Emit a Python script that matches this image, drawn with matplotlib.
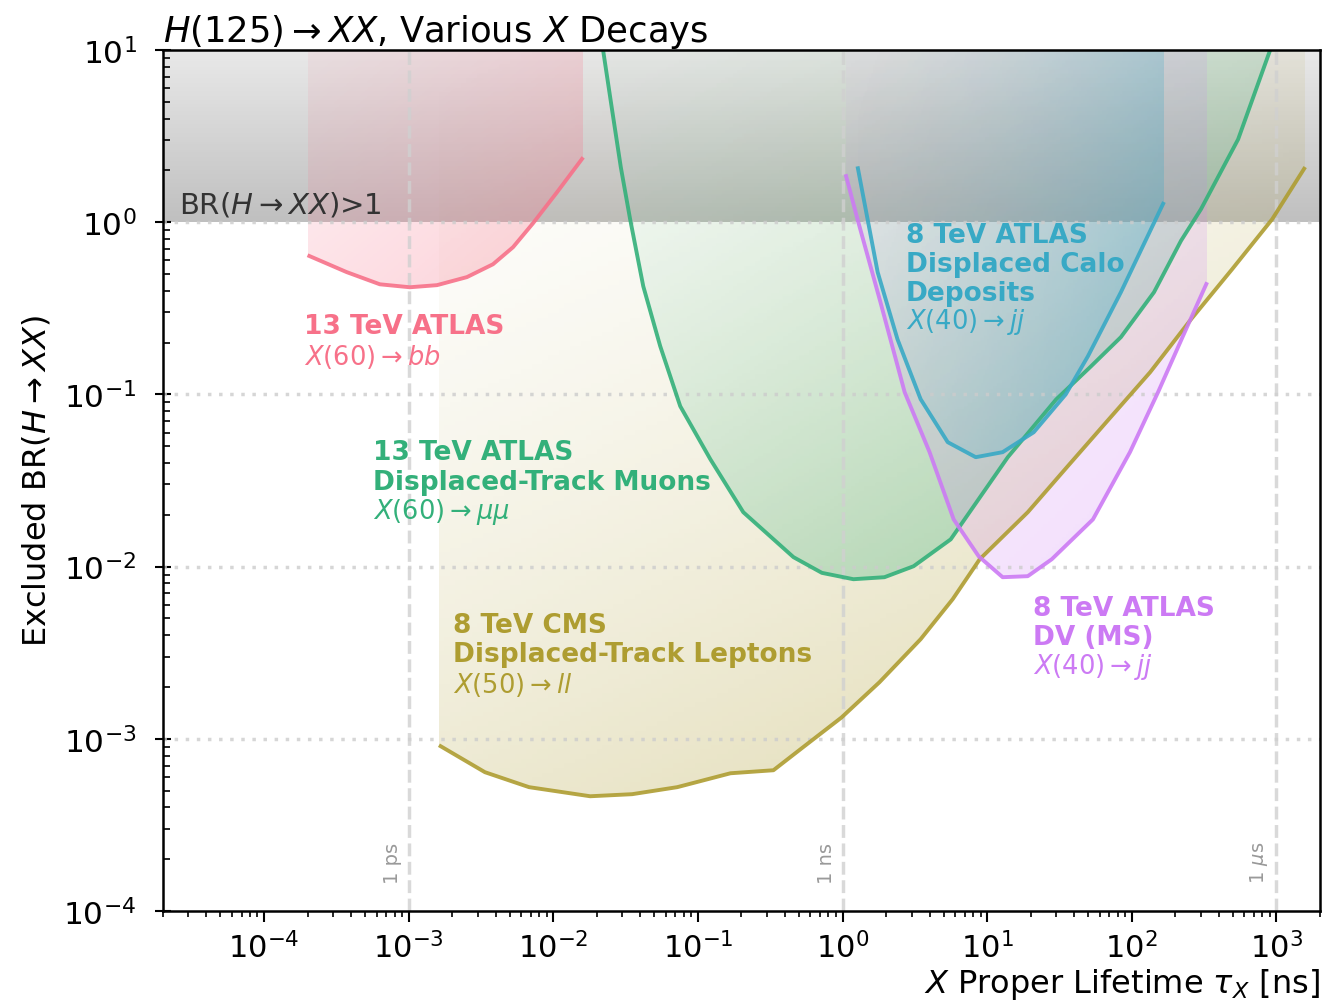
import numpy as np
import matplotlib.pyplot as plt
from matplotlib.colors import LinearSegmentedColormap, to_rgb
from matplotlib.patches import Polygon
from matplotlib.ticker import LogLocator

# ---- data (tau in ns, excluded BR) ----
# 13 TeV ATLAS, X(60) -> bb
bb_tau = [2.0e-4, 3.73e-4, 6.32e-4, 1.02e-3, 1.57e-3, 2.53e-3, 3.83e-3, 5.27e-3, 7.25e-3, 1.06e-2, 1.61e-2]
bb_br = [0.643, 0.513, 0.436, 0.419, 0.431, 0.480, 0.570, 0.716, 0.987, 1.49, 2.38]

# 13 TeV ATLAS displaced-track muons, X(60) -> mu mu
mu_tau = [0.0221, 0.0254, 0.0293, 0.034, 0.0419, 0.0549, 0.0755, 0.122, 0.206, 0.458, 0.72, 1.19,
          1.95, 3.10, 5.6, 13.9, 30.0, 52.0, 84.1, 142.5, 219, 301, 544, 906]
mu_br = [10.0, 4.6, 2.09, 1.04, 0.425, 0.1905, 0.0854, 0.042, 0.0207, 0.01135, 0.0092, 0.00845,
         0.00868, 0.01005, 0.0144, 0.0432, 0.0935, 0.145, 0.215, 0.392, 0.78, 1.19, 3.03, 10.0]

# 8 TeV ATLAS displaced calo deposits, X(40) -> jj
calo_tau = [1.27, 1.75, 2.40, 3.47, 5.34, 8.34, 12.8, 21.0, 35.0, 49.8, 84.1, 167]
calo_br = [2.11, 0.513, 0.209, 0.0938, 0.0528, 0.0432, 0.0462, 0.0603, 0.1002, 0.1667, 0.392, 1.31]

# 8 TeV ATLAS DV (MS), X(40) -> jj
ms_tau = [1.05, 1.27, 1.83, 2.69, 4.0, 5.87, 8.74, 12.8, 19.1, 28.0, 53.9, 97.2, 152, 226, 332]
ms_br = [1.90, 1.04, 0.343, 0.103, 0.0462, 0.0188, 0.01148, 0.00868, 0.0088, 0.01104, 0.0188,
         0.0462, 0.103, 0.218, 0.448]

# 8 TeV CMS displaced-track leptons, X(50) -> ll
ll_tau = [1.62e-3, 3.37e-3, 6.8e-3, 0.018, 0.0351, 0.072, 0.168, 0.333, 0.512, 0.984, 1.80,
          3.47, 5.78, 8.89, 19.1, 36.1, 69.5, 134, 257, 494, 935, 1582]
ll_br = [9.18e-4, 6.4e-4, 5.24e-4, 4.64e-4, 4.77e-4, 5.24e-4, 6.31e-4, 6.57e-4, 8.7e-4, 1.33e-3,
         2.13e-3, 3.79e-3, 6.47e-3, 0.01104, 0.0207, 0.0383, 0.0718, 0.1345, 0.273, 0.533, 1.04, 2.09]

ref_tau = [1e-3, 1.0, 1e3]
ref_lab = ['1 ps', '1 ns', r'1 $\mu$s']

# husl-like palette
c_pink = '#f77189'
c_olive = '#ae9d31'
c_green = '#33b07a'
c_blue = '#38a9c5'
c_purple = '#cc7af4'

XMIN, XMAX = 2e-5, 2e3
YMIN, YTOP = 1e-4, 10.0

fig = plt.figure(figsize=(13.4, 10.04), dpi=100)
ax = fig.add_axes([0.1216, 0.0916, 0.8634, 0.8576])
ax.set_xscale('log')
ax.set_yscale('log')
ax.set_xlim(XMIN, XMAX)
ax.set_ylim(YMIN, YTOP)


def gradient_fill(tau, br, color, a0, a1, wx=0.5, power=1.0, z=2):
    verts = list(zip(tau, br)) + [(tau[-1], YTOP), (tau[0], YTOP)]
    poly = Polygon(verts, closed=True, transform=ax.transData,
                   facecolor='none', edgecolor='none')
    ax.add_patch(poly)
    lx = np.linspace(np.log10(min(tau)), np.log10(max(tau)), 160)
    ly = np.linspace(np.log10(min(br)), np.log10(YTOP), 160)
    X, Y = np.meshgrid(10 ** lx, 10 ** ly)
    fx = (lx - lx[0]) / (lx[-1] - lx[0])
    fy = (ly - ly[0]) / (ly[-1] - ly[0])
    T = wx * fx[None, :] + (1 - wx) * (1 - fy[:, None])
    T = np.clip(T, 0, 1) ** power
    rgb = to_rgb(color)
    cmap = LinearSegmentedColormap.from_list('g', [(*rgb, a0), (*rgb, a1)])
    mesh = ax.pcolormesh(X, Y, T[:-1, :-1], cmap=cmap, vmin=0, vmax=1,
                         shading='flat', edgecolors='none', zorder=z)
    mesh.set_clip_path(poly)


# BR > 1 region, grey gradient (under the fills)
gy = np.logspace(0, 1, 80)
gx = np.array([XMIN, XMAX])
GX, GY = np.meshgrid(gx, gy)
gcm = LinearSegmentedColormap.from_list('gr', [(0, 0, 0, 0.25), (0, 0, 0, 0.09)])
ax.pcolormesh(GX, GY, np.linspace(0, 1, 79)[:, None], cmap=gcm, vmin=0, vmax=1,
              shading='flat', edgecolors='none', zorder=0.9)

gradient_fill(ll_tau, ll_br, c_olive, 0.0, 0.42, wx=0.35, power=1.5, z=1.0)
gradient_fill(mu_tau, mu_br, c_green, 0.02, 0.40, wx=0.45, power=1.3, z=1.1)
gradient_fill(bb_tau, bb_br, c_pink, 0.08, 0.33, wx=0.5, z=1.2)
gradient_fill(ms_tau, ms_br, c_purple, 0.05, 0.26, wx=0.4, z=1.3)
gradient_fill(calo_tau, calo_br, c_blue, 0.0, 0.42, wx=0.7, power=1.6, z=1.4)

ax.text(2.6e-5, 1.27, r'BR($H\rightarrow XX$)>1', fontsize=21, color='#333333',
        va='center', ha='left', zorder=6)

# guide lines
for yv in [1e-3, 1e-2, 1e-1, 1.0]:
    ax.axhline(yv, color='#cccccc', lw=2.5, ls=(0, (1, 2.2)), alpha=0.8, zorder=2.5)
for tv, lab in zip(ref_tau, ref_lab):
    ax.axvline(tv, color='#d0d0d0', lw=2.5, ls='--', alpha=0.8, zorder=2.5)
    ax.text(tv * 0.9, 1.45e-4, lab, rotation=90, ha='right', va='bottom',
            fontsize=14, color='#999999', zorder=6)

# limit curves
for tau, br, col in [(ll_tau, ll_br, c_olive), (mu_tau, mu_br, c_green), (bb_tau, bb_br, c_pink),
                     (ms_tau, ms_br, c_purple), (calo_tau, calo_br, c_blue)]:
    ax.plot(tau, br, color=col, lw=2.8, alpha=0.9, zorder=4, solid_capstyle='butt')


# labels
def label(x, ys, lines, math, color):
    for y, t in zip(ys[:-1], lines):
        ax.text(x, y, t, color=color, fontsize=19, fontweight='bold', va='center', ha='left', zorder=6)
    ax.text(x, ys[-1], math, color=color, fontsize=18.5, va='center', ha='left', zorder=6)


label(1.88e-4, [0.249, 0.167], ['13 TeV ATLAS'], r'$X(60)\rightarrow bb$', c_pink)
label(5.65e-4, [0.0462, 0.0309, 0.021], ['13 TeV ATLAS', 'Displaced-Track Muons'],
      r'$X(60)\rightarrow \mu\mu$', c_green)
label(2.73, [0.84, 0.57, 0.387, 0.266], ['8 TeV ATLAS', 'Displaced Calo', 'Deposits'],
      r'$X(40)\rightarrow jj$', c_blue)
label(20.7, [5.73e-3, 3.89e-3, 2.64e-3], ['8 TeV ATLAS', 'DV (MS)'],
      r'$X(40)\rightarrow jj$', c_purple)
label(2.02e-3, [4.57e-3, 3.1e-3, 2.08e-3], ['8 TeV CMS', 'Displaced-Track Leptons'],
      r'$X(50)\rightarrow ll$', c_olive)

# axes styling
ax.set_xticks([1e-4, 1e-3, 1e-2, 1e-1, 1, 10, 100, 1000])
ax.set_yticks([1e-4, 1e-3, 1e-2, 1e-1, 1, 10])
ax.xaxis.set_minor_locator(LogLocator(base=10, subs=np.arange(2, 10), numticks=20))
ax.yaxis.set_minor_locator(LogLocator(base=10, subs=np.arange(2, 10), numticks=20))
ax.set_xlim(XMIN, XMAX)
ax.set_ylim(YMIN, YTOP)
ax.tick_params(axis='x', which='major', direction='out', length=8, width=1.5, labelsize=22, pad=6)
ax.tick_params(axis='x', which='minor', direction='out', length=4, width=1.2)
ax.tick_params(axis='y', which='major', direction='inout', length=12, width=1.5, labelsize=22.5, pad=13)
ax.tick_params(axis='y', which='minor', direction='in', length=5, width=1.2)
for s in ax.spines.values():
    s.set_linewidth(1.8)
    s.set_zorder(7)

ax.set_xlabel(r'$X$ Proper Lifetime $\tau_X$ [ns]', fontsize=23, loc='right', labelpad=2)
ax.set_ylabel(r'Excluded BR($H\rightarrow XX$)', fontsize=23, labelpad=8)
ax.set_title(r'$H(125)\rightarrow XX$, Various $X$ Decays', fontsize=25.5, loc='left', pad=5)

fig.savefig('out.png', dpi=100)
